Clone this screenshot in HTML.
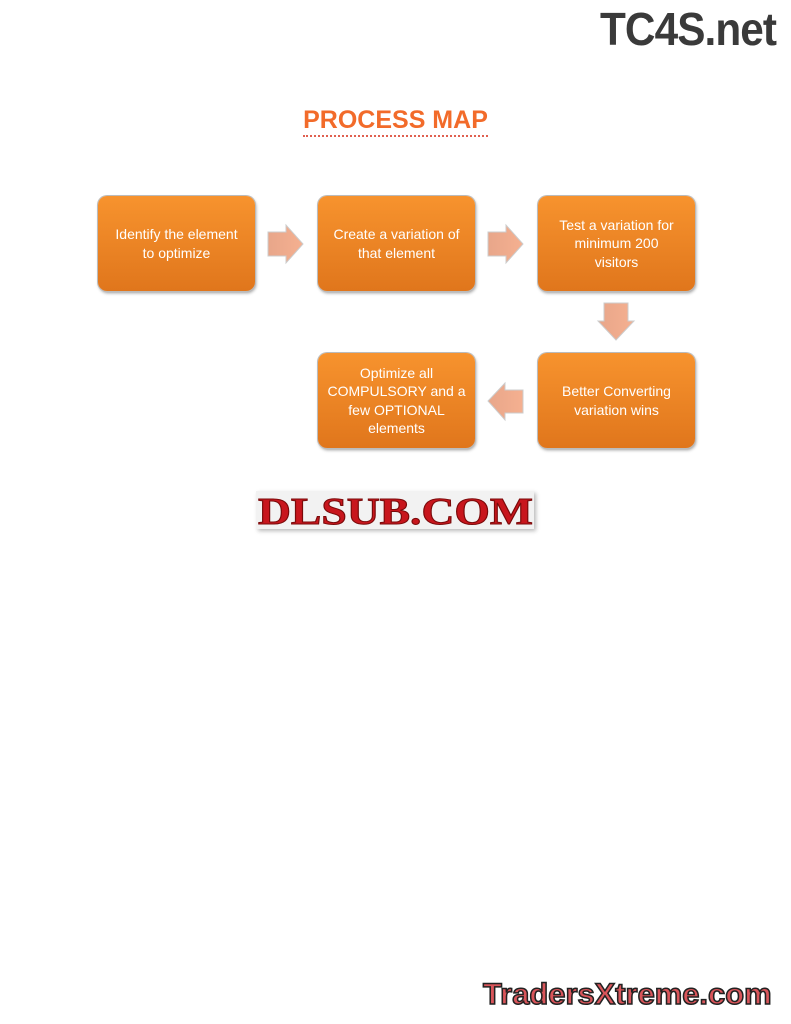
<!DOCTYPE html>
<html><head><style>
body{margin:0;width:791px;height:1024px;background:#fff;position:relative;overflow:hidden;font-family:"Liberation Sans",sans-serif}
.b{position:absolute;width:157px;height:95px;border-radius:9px;background:linear-gradient(#f7932e,#e0761c);box-shadow:0 0 0 1px #bbb,1px 2px 3px #999;color:#fff;font-size:14px;line-height:18.5px;display:flex;align-items:center;justify-content:center;text-align:center;box-sizing:border-box;padding:0 2px;white-space:nowrap}
.a{position:absolute}
</style></head><body>
<div style="position:absolute;left:600px;top:2px;font:bold 46px 'Liberation Sans',sans-serif;letter-spacing:-1px;color:#3a3a3a;transform:scaleX(0.92);transform-origin:left">TC4S.net</div>
<div style="position:absolute;left:0;width:791px;top:106px;text-align:center;color:#f26b2a;font-weight:bold;font-size:25px"><span style="border-bottom:2px dotted #e06050;padding-bottom:1px">PROCESS MAP</span></div>
<div class="b" style="left:98px;top:196px">Identify the element<br>to optimize</div>
<div class="b" style="left:318px;top:196px">Create a variation of<br>that element</div>
<div class="b" style="left:538px;top:196px">Test a variation for<br>minimum 200<br>visitors</div>
<div class="b" style="left:538px;top:353px">Better Converting<br>variation wins</div>
<div class="b" style="left:318px;top:353px">Optimize all<br>COMPULSORY and a<br>few OPTIONAL<br>elements</div>
<svg class="a" style="left:0;top:0" width="791" height="600">
<defs><linearGradient id="g" x1="0" x2="1"><stop offset="0" stop-color="#e8a68a"/><stop offset="1" stop-color="#f5b090"/></linearGradient></defs>
<polygon points="268,232 286,232 286,225 303,244 286,263 286,256 268,256" fill="url(#g)" stroke="#ccc"/>
<polygon points="488,232 506,232 506,225 523,244 506,263 506,256 488,256" fill="url(#g)" stroke="#ccc"/>
<polygon points="604,303 628,303 628,321 634,321 616,340 598,321 604,321" fill="url(#g)" stroke="#ccc"/>
<polygon points="523,390 505,390 505,383 488,401 505,420 505,413 523,413" fill="url(#g)" stroke="#ccc"/>
</svg>
<div style="position:absolute;left:256px;top:491px;width:278px;height:38px;background:#f2f2f2;box-shadow:2px 2px 4px #bbb"></div>
<div style="position:absolute;left:258px;top:490px;font:900 38px 'Liberation Serif',serif;color:#c8161d;letter-spacing:0px;-webkit-text-stroke:1px #7a0a0a;transform:scaleX(1.2);transform-origin:left">DLSUB.COM</div>
<div style="position:absolute;left:483px;top:978px;font:bold 30px 'Liberation Sans',sans-serif;color:#d9555a;-webkit-text-stroke:1.5px #222;letter-spacing:0px;transform:scaleX(1.03);transform-origin:left">TradersXtreme.com</div>
</body></html>
